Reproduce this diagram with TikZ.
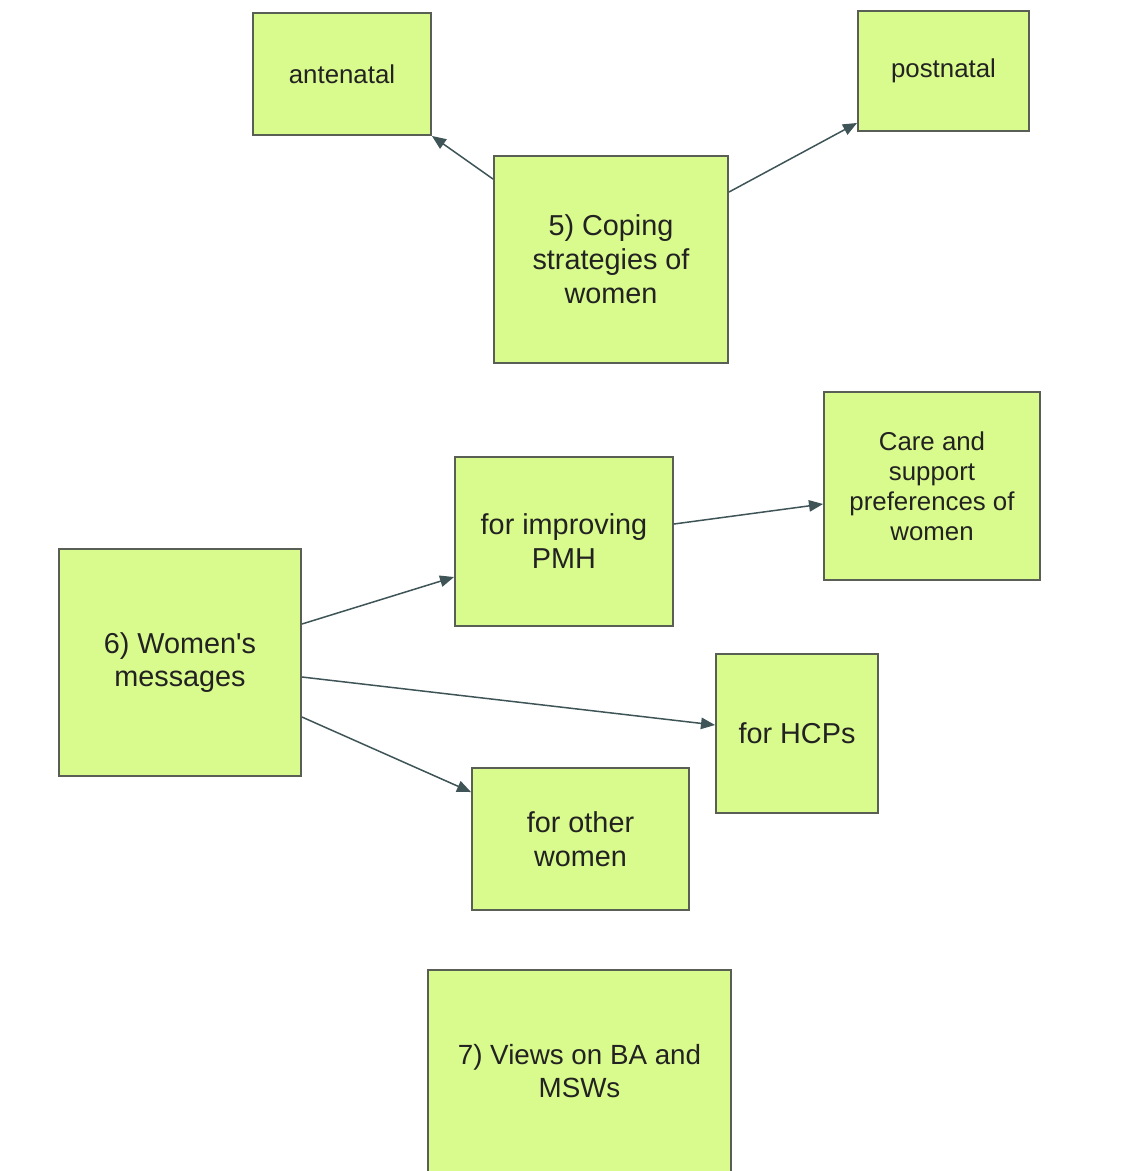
\documentclass[tikz,border=0pt]{standalone}
\usepackage{fontspec}
\setmainfont{Liberation Sans}
\usetikzlibrary{arrows.meta,calc}
\definecolor{boxfill}{HTML}{D9FA8C}
\definecolor{boxline}{HTML}{5A5F55}
\definecolor{linkcol}{HTML}{3E5457}
\definecolor{txt}{HTML}{222222}
\tikzset{
  topic/.style={draw=boxline, line width=1.1pt, fill=boxfill, text=txt,
    align=center, inner sep=2pt, font=\fontsize{16.4}{19.3}\selectfont},
  smalltopic/.style={topic, font=\fontsize{14.7}{17}\selectfont},
  link/.style={draw=linkcol, line width=0.85pt,
    -{Triangle[length=8pt,width=6.5pt]}}
}
\begin{document}
\begin{tikzpicture}[x=0.02cm, y=-0.02cm]
\useasboundingbox (0,0) rectangle (1144,1171);
\fill[white] (0,0) rectangle (1144,1171);
\clip (0,0) rectangle (1144,1171);

% theme 5 and its two branches
\node[smalltopic, minimum width=3.56cm, minimum height=2.44cm] (ante) at (342,74) {antenatal};
\node[smalltopic, minimum width=3.42cm, minimum height=2.40cm] (post) at (943.5,71) {postnatal};
\node[topic, minimum width=4.68cm, minimum height=4.14cm] (cope) at (611,259.5) {5) Coping\\strategies of\\women};

% theme 6 and its messages
\node[topic, minimum width=4.84cm, minimum height=4.54cm] (msg) at (180,662.5) {6) Women\textquotesingle s\\messages};
\node[topic, minimum width=4.36cm, minimum height=3.38cm] (pmh) at (564,541.5) {for improving\\PMH};
\node[smalltopic, minimum width=4.32cm, minimum height=3.76cm] (care) at (932,486) {Care and\\support\\preferences of\\women};
\node[topic, minimum width=3.24cm, minimum height=3.18cm] (hcp) at (797,733.5) {for HCPs};
\node[topic, minimum width=4.34cm, minimum height=2.84cm] (other) at (580.5,839) {for other\\women};

% theme 7
\node[topic, font=\fontsize{15.8}{18.8}\selectfont, minimum width=6.06cm, minimum height=4.06cm] (views) at (579.5,1071.5) {7) Views on BA and\\MSWs};

% connectors
\draw[link] ($(cope.north west)+(0,24)$) -- (ante.south east);
\draw[link] ($(cope.north east)+(0,37)$) -- ($(post.south west)+(0,-9)$);
\draw[link] ($(pmh.east)+(0,-17.5)$) -- ($(care.west)+(0,18)$);
\draw[link] ($(msg.east)+(0,-38.5)$) -- ($(pmh.west)+(0,35.5)$);
\draw[link] ($(msg.east)+(0,14.5)$) -- ($(hcp.west)+(0,-8.5)$);
\draw[link] ($(msg.east)+(0,54.5)$) -- ($(other.north west)+(0,25)$);
\end{tikzpicture}
\end{document}
